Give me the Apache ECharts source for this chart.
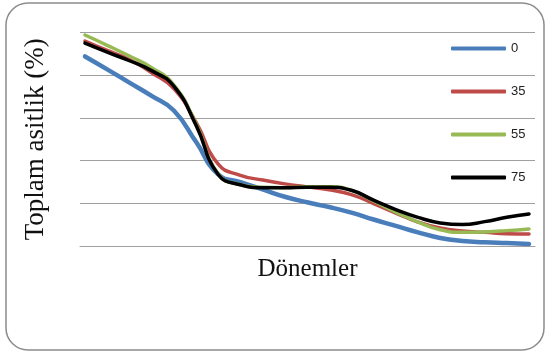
<!DOCTYPE html>
<html>
<head>
<meta charset="utf-8">
<script src="https://cdn.jsdelivr.net/npm/echarts@6/dist/echarts.min.js"></script>
<style>
  html, body { margin: 0; padding: 0; background: #ffffff; }
  #chart { width: 549px; height: 354px; }
</style>
</head>
<body>
<div id="chart"></div>
<script>
// Periods along the horizontal axis (labels are not drawn)
const periods = ['1','2','3','4','5','6','7','8','9','10','11','12','13','14','15','16','17','18','19','20','21'];

// Total acidity per period for each treatment
const s0  = [4.43, 4.13, 3.82, 3.51, 3.17, 2.44, 1.68, 1.50, 1.33, 1.16, 1.03, 0.92, 0.79, 0.63, 0.48, 0.33, 0.20, 0.13, 0.10, 0.08, 0.06];
const s35 = [4.79, 4.57, 4.36, 4.05, 3.68, 2.90, 1.92, 1.66, 1.55, 1.46, 1.39, 1.32, 1.21, 1.00, 0.78, 0.57, 0.43, 0.36, 0.33, 0.30, 0.29];
const s55 = [4.93, 4.69, 4.44, 4.17, 3.77, 2.86, 1.69, 1.44, 1.38, 1.37, 1.39, 1.39, 1.31, 1.06, 0.80, 0.57, 0.39, 0.33, 0.34, 0.37, 0.41];
const s75 = [4.74, 4.53, 4.33, 4.10, 3.74, 2.83, 1.68, 1.44, 1.37, 1.37, 1.38, 1.38, 1.31, 1.08, 0.86, 0.68, 0.55, 0.51, 0.58, 0.68, 0.76];

const seriesNames = ['0', '35', '55', '75'];
const colors = ['#4A7EBB', '#BE4B48', '#98B954', '#000000'];
const widths = [4.5, 3.5, 3.5, 3.5];
const values = [s0, s35, s55, s75];

const chart = echarts.init(document.getElementById('chart'), null, { renderer: 'canvas' });

const series = values.map((arr, k) => ({
  name: seriesNames[k],
  type: 'line',
  smooth: 0.5,
  symbol: 'none',
  z: 2 + k,
  data: arr.map((v, i) => [i, v]),
  lineStyle: { color: colors[k], width: widths[k], cap: 'round' },
  itemStyle: { color: colors[k] }
}));

chart.setOption({
  animation: false,
  backgroundColor: '#ffffff',
  graphic: [{
    type: 'rect',
    shape: { x: 6, y: 3, width: 538, height: 347, r: 22 },
    style: { fill: 'none', stroke: '#8c8c8c', lineWidth: 1.5 },
    silent: true,
    z: -1
  }],
  grid: { left: 80, right: 14, top: 32, bottom: 107.5, containLabel: false },
  legend: {
    orient: 'vertical',
    left: 446,
    top: 37,
    itemWidth: 55,
    itemHeight: 4,
    itemGap: 30,
    icon: 'roundRect',
    textStyle: { fontFamily: 'Liberation Sans Narrow, Liberation Sans, sans-serif', fontSize: 13, color: '#222' },
    data: seriesNames
  },
  xAxis: {
    type: 'value',
    min: -0.225,
    max: periods.length - 1 + 0.27,
    name: 'Dönemler',
    nameLocation: 'middle',
    nameGap: 10,
    nameTextStyle: { fontFamily: 'Liberation Serif, Times New Roman, serif', fontSize: 25, color: '#111' },
    axisLine: { show: true, lineStyle: { color: '#a0a0a0', width: 1 } },
    axisTick: { show: false },
    axisLabel: { show: false },
    splitLine: { show: false }
  },
  yAxis: {
    type: 'value',
    min: 0,
    max: 5,
    interval: 1,
    name: 'Toplam asitlik (%)',
    nameLocation: 'middle',
    nameRotate: 90,
    nameGap: 31,
    nameTextStyle: { fontFamily: 'Liberation Serif, Times New Roman, serif', fontSize: 27, color: '#111' },
    axisLine: { show: false },
    axisTick: { show: true, length: 5, lineStyle: { color: '#a0a0a0' } },
    axisLabel: { show: false },
    splitLine: { show: true, lineStyle: { color: '#a0a0a0', width: 1 } }
  },
  series: series
});
</script>
</body>
</html>
